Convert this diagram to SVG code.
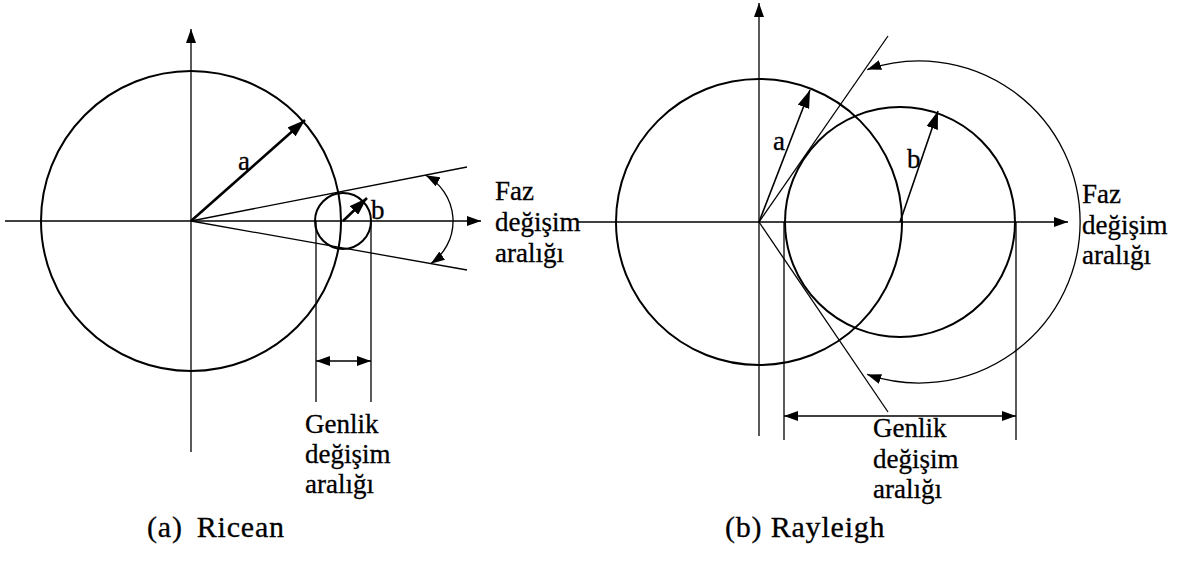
<svg xmlns="http://www.w3.org/2000/svg" width="1181" height="568" viewBox="0 0 1181 568">
<defs>
<marker id="ah" viewBox="0 0 14 10" refX="14" refY="5" markerWidth="14" markerHeight="10" markerUnits="userSpaceOnUse" orient="auto-start-reverse">
<path d="M0,0 L14,5 L0,10 z" fill="#000"/>
</marker>
<marker id="ahb" viewBox="0 0 18 12" refX="18" refY="6" markerWidth="18" markerHeight="12" markerUnits="userSpaceOnUse" orient="auto">
<path d="M0,0 L18,6 L0,12 z" fill="#000"/>
</marker>
</defs>
<style>
.thin{fill:none;stroke:#000;stroke-width:1.3}
.circ{fill:none;stroke:#000;stroke-width:2}
.vec{fill:none;stroke:#000;stroke-width:2.6}
.t{font-size:27px;fill:#000;stroke:#000;stroke-width:0.3}
.cap{font-size:30px;letter-spacing:0.8px;fill:#000;stroke:#000;stroke-width:0.3}
</style>
<rect width="1181" height="568" fill="#fff"/>

<g id="connectors">
<line class="thin" x1="191" y1="452" x2="191" y2="29" marker-end="url(#ah)"/>
<line class="thin" x1="5" y1="221" x2="481" y2="221" marker-end="url(#ah)"/>
<line class="thin" x1="191" y1="221" x2="467" y2="167"/>
<line class="thin" x1="191" y1="221" x2="467" y2="270"/>
<path class="thin" d="M425.7,175.2 A52,52 0 0 1 430.7,263.7" marker-start="url(#ah)" marker-end="url(#ah)"/>
<line class="thin" x1="316" y1="221" x2="316" y2="402"/>
<line class="thin" x1="371" y1="221" x2="371" y2="402"/>
<line class="thin" x1="316" y1="361" x2="371" y2="361" marker-start="url(#ah)" marker-end="url(#ah)"/>
<line class="vec" x1="191" y1="221" x2="305" y2="120" marker-end="url(#ahb)"/>
<line class="vec" x1="343" y1="221" x2="367" y2="198" marker-end="url(#ahb)"/>

<line class="thin" x1="759" y1="436" x2="759" y2="3" marker-end="url(#ah)"/>
<line class="thin" x1="578" y1="222" x2="1068" y2="222" marker-end="url(#ah)"/>
<line class="thin" x1="759" y1="222" x2="888" y2="36"/>
<line class="thin" x1="759" y1="222" x2="888" y2="412"/>
<path class="thin" d="M867.2,69.6 A161,161 0 1 1 867.2,374.4" marker-start="url(#ah)" marker-end="url(#ah)"/>
<line class="thin" x1="784" y1="222" x2="784" y2="440"/>
<line class="thin" x1="1016" y1="222" x2="1016" y2="440"/>
<line class="thin" x1="784" y1="416" x2="1016" y2="416" marker-start="url(#ah)" marker-end="url(#ah)"/>
<line class="thin" x1="759" y1="222" x2="810" y2="90" style="stroke-width:1.6" marker-end="url(#ahb)"/>
<line class="thin" x1="900" y1="222" x2="938" y2="111" style="stroke-width:1.6" marker-end="url(#ahb)"/>
</g>

<g id="ricean-circle-a"><circle class="circ" cx="191" cy="221" r="150"/></g>
<g id="ricean-circle-b"><circle class="circ" cx="343" cy="221" r="28"/></g>
<g id="rayleigh-circle-a"><circle class="circ" cx="759" cy="222" r="143"/></g>
<g id="rayleigh-circle-b"><circle class="circ" cx="900" cy="222" r="115"/></g>

<g id="labels-left" font-family="'Liberation Serif', 'Times New Roman', 'DejaVu Serif', serif">
<text class="t" x="238" y="170">a</text>
<text class="t" x="371" y="219">b</text>
<text class="t" x="495" y="200">Faz</text>
<text class="t" x="495" y="231">değişim</text>
<text class="t" x="495" y="262">aralığı</text>
<text class="t" x="305" y="433">Genlik</text>
<text class="t" x="305" y="463">değişim</text>
<text class="t" x="305" y="493">aralığı</text>
<text class="cap" x="147" y="537">(a)<tspan dx="14">Ricean</tspan></text>
</g>

<g id="labels-right" font-family="'Liberation Serif', 'Times New Roman', 'DejaVu Serif', serif">
<text class="t" x="773" y="150">a</text>
<text class="t" x="907" y="168">b</text>
<text class="t" x="1082" y="203">Faz</text>
<text class="t" x="1082" y="234">değişim</text>
<text class="t" x="1082" y="264">aralığı</text>
<text class="t" x="873" y="437">Genlik</text>
<text class="t" x="873" y="468">değişim</text>
<text class="t" x="873" y="498">aralığı</text>
<text class="cap" x="725" y="537">(b) Rayleigh</text>
</g>
</svg>
